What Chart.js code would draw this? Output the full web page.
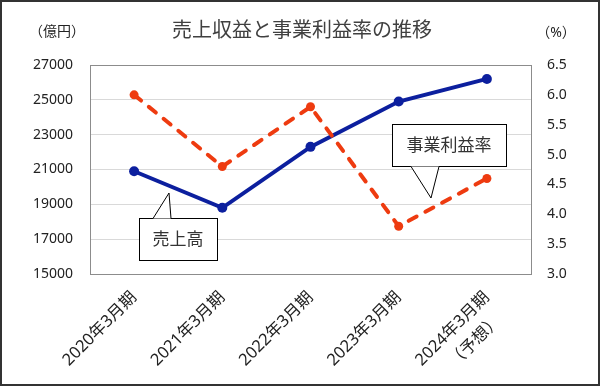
<!DOCTYPE html>
<html lang="ja">
<head>
<meta charset="utf-8">
<script src="https://cdn.jsdelivr.net/npm/chart.js@4/dist/chart.umd.min.js"></script>
<style>
  html, body { margin: 0; padding: 0; background: #fff; }
  #wrap { width: 600px; height: 386px; }
</style>
</head>
<body>
<div id="wrap"><canvas id="chart" width="600" height="386"></canvas></div>
<script>
const periods = ['2020年3月期', '2021年3月期', '2022年3月期', '2023年3月期', ['2024年3月期', '（予想）\u3000']];
const revenue = [20900, 18800, 22300, 24900, 26200];
const marginRate = [6.0, 4.8, 5.8, 3.8, 4.6];
const revenueTicks = [15000, 27000, 2000];
const rateTicks = [3.0, 6.5, 0.5];

const blue = '#0c1f9e';
const red = '#ee3b10';
const textColor = '#222';
const font = "'Noto Sans', 'Noto Sans CJK JP', sans-serif";

const callouts = [
  { text: '売上高', box: [139, 218, 78, 42], tail: [[153, 218], [169, 193], [171, 218]] },
  { text: '事業利益率', box: [392, 124, 114, 42], tail: [[411, 166], [431, 198], [439, 166]] }
];

const decor = {
  id: 'decor',
  beforeDraw(chart) {
    const { ctx } = chart;
    ctx.save();
    ctx.fillStyle = '#fff';
    ctx.fillRect(0, 0, chart.width, chart.height);
    ctx.restore();
  },
  beforeDatasetsDraw(chart) {
    const { ctx, chartArea: a } = chart;
    ctx.save();
    ctx.strokeStyle = '#8c8c8c';
    ctx.lineWidth = 1;
    ctx.strokeRect(Math.round(a.left) + 0.5, Math.round(a.top) + 0.5, Math.round(a.width), Math.round(a.height));
    ctx.restore();
  },
  afterDraw(chart) {
    const { ctx } = chart;
    ctx.save();
    ctx.fillStyle = '#404040';
    ctx.textBaseline = 'middle';
    ctx.textAlign = 'center';
    ctx.font = `20px ${font}`;
    ctx.fillText('売上収益と事業利益率の推移', 302, 31);
    ctx.font = `14px ${font}`;
    ctx.fillStyle = textColor;
    ctx.fillText('（億円）', 57, 32);
    ctx.fillText('（%）', 556, 33);

    callouts.forEach((c) => {
      const [x, y, w, h] = c.box;
      ctx.fillStyle = '#fff';
      ctx.strokeStyle = '#000';
      ctx.lineWidth = 1;
      ctx.fillRect(x, y, w, h);
      ctx.strokeRect(x + 0.5, y + 0.5, w, h);
      ctx.beginPath();
      ctx.moveTo(c.tail[0][0], c.tail[0][1] + 0.5);
      ctx.lineTo(c.tail[1][0], c.tail[1][1]);
      ctx.lineTo(c.tail[2][0], c.tail[2][1] + 0.5);
      ctx.closePath();
      ctx.fill();
      ctx.beginPath();
      ctx.moveTo(c.tail[0][0], c.tail[0][1] + 0.5);
      ctx.lineTo(c.tail[1][0], c.tail[1][1]);
      ctx.lineTo(c.tail[2][0], c.tail[2][1] + 0.5);
      ctx.stroke();
      ctx.fillStyle = '#333';
      ctx.font = `17px ${font}`;
      ctx.fillText(c.text, x + w / 2, y + h / 2 + 1);
    });

    ctx.strokeStyle = '#333';
    ctx.lineWidth = 2;
    ctx.strokeRect(1, 1, chart.width - 2, chart.height - 2);
    ctx.restore();
  }
};

new Chart(document.getElementById('chart'), {
  type: 'line',
  data: {
    labels: periods,
    datasets: [
      {
        label: '事業利益率',
        data: marginRate,
        yAxisID: 'y1',
        order: 0,
        borderColor: red,
        backgroundColor: red,
        borderWidth: 4,
        borderDash: [9, 10],
        borderCapStyle: 'round',
        pointRadius: 4.5,
        pointBorderWidth: 0,
        tension: 0
      },
      {
        label: '売上高',
        data: revenue,
        yAxisID: 'y',
        order: 1,
        borderColor: blue,
        backgroundColor: blue,
        borderWidth: 4,
        pointRadius: 5,
        pointBorderWidth: 0,
        tension: 0
      }
    ]
  },
  options: {
    responsive: false,
    animation: false,
    layout: { padding: { top: 65, left: 0, right: 0, bottom: 0 } },
    plugins: { legend: { display: false }, title: { display: false }, tooltip: { enabled: false } },
    scales: {
      x: {
        offset: true,
        grid: { display: false },
        border: { display: false },
        ticks: { color: textColor, font: { family: font, size: 16.5, lineHeight: 1.5 }, maxRotation: 45, minRotation: 45, autoSkip: false, padding: 4 },
        afterFit: (scale) => { scale.height = 112; }
      },
      y: {
        position: 'left',
        min: revenueTicks[0],
        max: revenueTicks[1],
        grid: { color: '#d9d9d9', drawTicks: false },
        border: { display: false },
        ticks: { stepSize: revenueTicks[2], color: textColor, font: { family: font, size: 14 }, padding: 17, callback: (v) => String(v) },
        afterFit: (scale) => { scale.width = 90; }
      },
      y1: {
        position: 'right',
        min: rateTicks[0],
        max: rateTicks[1],
        grid: { display: false, drawTicks: false },
        border: { display: false },
        ticks: { stepSize: rateTicks[2], color: textColor, font: { family: font, size: 14 }, padding: 16, callback: (v) => Number(v).toFixed(1) },
        afterFit: (scale) => { scale.width = 69; }
      }
    }
  },
  plugins: [decor]
});
</script>
</body>
</html>
